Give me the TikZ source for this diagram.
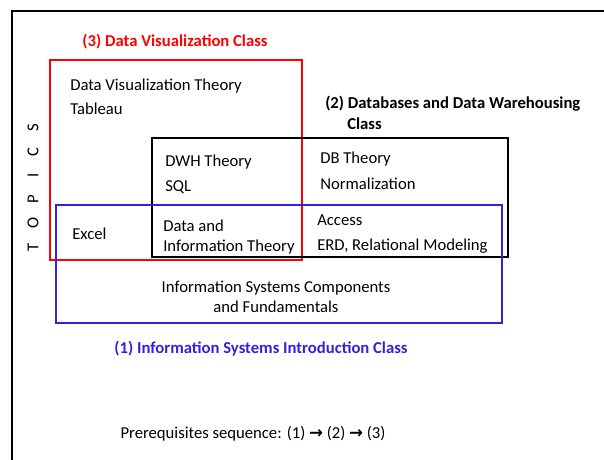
\documentclass[tikz,border=0pt]{standalone}
\usepackage{fontspec}
\setmainfont{Carlito}
\newfontfamily\arrowfont{DejaVu Sans}
\usepackage{tikz}
\usetikzlibrary{positioning}
\definecolor{dvred}{RGB}{255,0,0}
\definecolor{isblue}{RGB}{51,34,221}
\tikzstyle{classbox} = [line width=1.5pt]
\tikzstyle{topic} = [anchor=west, inner sep=0pt, yshift=-1.1pt, font=\fontsize{12.5}{15}\selectfont]
\tikzstyle{title} = [inner sep=0pt, yshift=-1.1pt, font=\fontsize{12.5}{15}\selectfont\bfseries]
\tikzstyle{letter} = [rotate=90, inner sep=0pt, font=\fontsize{12.5}{15}\selectfont]

\begin{document}
\begin{tikzpicture}[x=0.75pt, y=-0.75pt]
	\useasboundingbox (0,0) rectangle (604,460);
	\draw [line width=1.5pt] (12,460) -- (12,11) -- (604,11);
	% class boxes
	\draw [classbox, draw=dvred] (50,60) rectangle (302,260);
	\draw [classbox, draw=black, line width=1.2pt] (152,138) rectangle (508,257);
	\draw [classbox, draw=isblue] (56,205) rectangle (502,323);
	% titles
	\node (vistitle) [title, text=dvred] at (175,40) {(3) Data Visualization Class};
	\node (dbtitle) [title, anchor=west] at (325,102.5) {(2) Databases and Data Warehousing};
	\node (dbclass) [title, below=15.5pt of dbtitle.base west, anchor=base west, xshift=16.5pt, yshift=1.1pt] {Class};
	\node (istitle) [title, text=isblue] at (261,347) {(1) Information Systems Introduction Class};
	% topics
	\foreach \ch [count=\i] in {T,O,P,I,C,S}
		\node (letter\i) [letter] at (33,{247-23.8*(\i-1)}) {\ch};
	\node (dvtheory) [topic] at (70,85) {Data Visualization Theory};
	\node (tableau) [topic, below=18pt of dvtheory.base west, anchor=base west, yshift=1.1pt] {Tableau};
	\node (dwhtheory) [topic] at (165,161) {DWH Theory};
	\node (sql) [topic, below=18.75pt of dwhtheory.base west, anchor=base west, yshift=1.1pt] {SQL};
	\node (dbtheory) [topic] at (320,158) {DB Theory};
	\node (normal) [topic, below=19.5pt of dbtheory.base west, anchor=base west, yshift=1.1pt] {Normalization};
	\node (excel) [topic] at (72,232) {Excel};
	\node (datainfo) [topic, align=left] at (163,236) {Data and\\Information Theory};
	\node (access) [topic] at (317,219) {Access};
	\node (erd) [topic, below=18.75pt of access.base west, anchor=base west, yshift=1.1pt] {ERD, Relational Modeling};
	\node (iscomp) [topic, anchor=center, align=center] at (276,295) {Information Systems Components\\and Fundamentals};
	\node (prereq) [topic, anchor=center] at (253,432) {Prerequisites sequence: (1) {\arrowfont\bfseries →} (2) {\arrowfont\bfseries →} (3)};
\end{tikzpicture}
\end{document}
